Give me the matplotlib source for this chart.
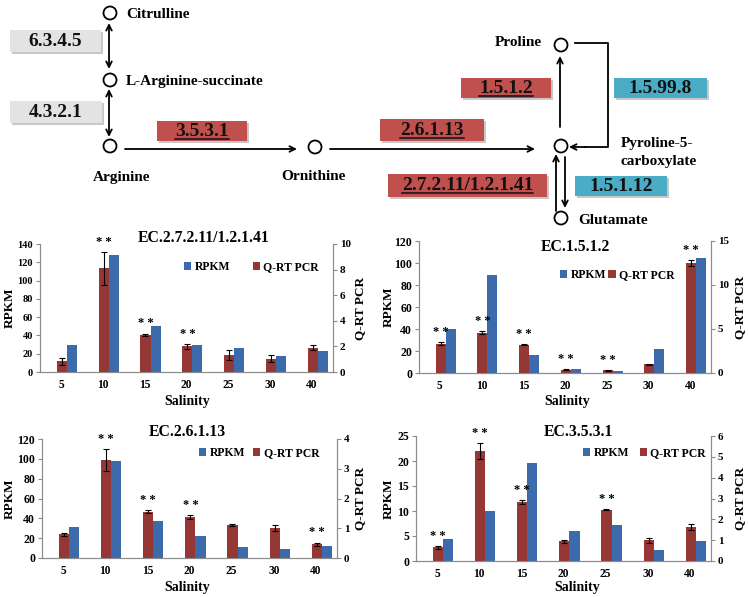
import matplotlib
matplotlib.use('Agg')
import matplotlib.pyplot as plt
from matplotlib.patches import Rectangle, Circle
from matplotlib.lines import Line2D
import numpy as np

plt.rcParams['font.family'] = ['Liberation Serif', 'DejaVu Serif']
plt.rcParams['font.weight'] = 'bold'
plt.rcParams['axes.labelweight'] = 'bold'

W, H = 748, 597

# Data
salinity = ['5', '10', '15', '20', '25', '30', '40']

# EC.2.7.2.11/1.2.1.41
rpkm_a = [30, 128, 50, 30, 26, 17, 23]
qpcr_a = [0.85, 8.1, 2.9, 2.0, 1.3, 1.05, 1.9]
err_a = [0.28, 1.3, 0.1, 0.18, 0.4, 0.28, 0.2]
sig_a = [0, 1, 1, 1, 0, 0, 0]

# EC.1.5.1.2
rpkm_b = [40, 89, 16, 4, 2, 22, 105]
qpcr_b = [3.35, 4.6, 3.2, 0.38, 0.3, 1.0, 12.5]
err_b = [0.2, 0.2, 0.06, 0.05, 0.05, 0.05, 0.3]
sig_b = [1, 1, 1, 1, 1, 0, 1]

# EC.2.6.1.13
rpkm_c = [31, 98, 37, 22, 11, 9, 12]
qpcr_c = [0.8, 3.3, 1.56, 1.37, 1.12, 1.0, 0.47]
err_c = [0.05, 0.37, 0.05, 0.07, 0.03, 0.1, 0.05]
sig_c = [0, 1, 1, 1, 0, 0, 1]

# EC.3.5.3.1
rpkm_d = [4.5, 10.1, 19.6, 6.1, 7.3, 2.2, 4.1]
qpcr_d = [0.65, 5.28, 2.83, 0.94, 2.47, 1.0, 1.63]
err_d = [0.08, 0.38, 0.1, 0.07, 0.03, 0.12, 0.15]
sig_d = [1, 1, 1, 0, 1, 0, 0]

RED = '#953735'
BLUE = '#3c6aab'
SPINE = '#8c8c8c'

fig = plt.figure(figsize=(W / 100, H / 100), dpi=100)

def px_axes(left, right, bottom, top):
    return fig.add_axes([left / W, 1 - bottom / H, (right - left) / W, (bottom - top) / H])

def panel(box, title, title_xy, leg_xy, colsp, lab_x, ysize, rpkm, qpcr, err, sig,
          ylim1, yt1, ylim2, yt2):
    left, right, bottom, top = box
    ax = px_axes(*box)
    ax2 = ax.twinx()
    x = np.arange(len(salinity))
    w = 0.24
    ax.bar(x + 0.02 + w, rpkm, w, color=BLUE, label='RPKM', zorder=2)
    ax2.bar(x + 0.02, qpcr, w, color=RED, label='Q-RT PCR', yerr=err,
            error_kw=dict(ecolor='black', elinewidth=0.8, capsize=2.5, capthick=0.8), zorder=2)
    for i, s in enumerate(sig):
        if s:
            ax2.annotate('* *', (x[i] + 0.02, qpcr[i] + err[i]), xytext=(0, 3),
                         textcoords='offset points', ha='center', va='bottom', fontsize=9)
    ax.set_xlim(-0.5, len(salinity) - 0.5)
    ax.set_ylim(*ylim1)
    ax.set_yticks(yt1)
    ax2.set_ylim(*ylim2)
    ax2.set_yticks(yt2)
    ax.set_xticks(x)
    ax.set_xticklabels(salinity)
    for a in (ax, ax2):
        a.spines['top'].set_visible(False)
        for s in ('left', 'right', 'bottom'):
            a.spines[s].set_color(SPINE)
            a.spines[s].set_linewidth(0.8)
        a.tick_params(labelsize=8, length=3, color=SPINE, pad=2)
    ax.tick_params(axis='y', labelsize=ysize)
    ax.tick_params(axis='x', length=0, pad=5, labelsize=8.3)
    for a in (ax, ax2):
        for lb in a.get_xticklabels() + a.get_yticklabels():
            lb.set_fontweight('bold')

    # axis labels placed at pixel positions
    wpx, hpx = right - left, bottom - top
    ax.set_xlabel('Salinity', fontsize=10, fontweight='bold')
    ax.xaxis.label.set_va('center')
    ax.xaxis.set_label_coords((lab_x[0] - left) / wpx, -(lab_x[1] - bottom) / hpx)
    ax.set_ylabel('RPKM', fontsize=9.5, fontweight='bold')
    ax.yaxis.label.set_va('center')
    ax.yaxis.set_label_coords((lab_x[2] - left) / wpx, 0.5)
    ax2.set_ylabel('Q-RT PCR', fontsize=9.5, fontweight='bold')
    ax2.yaxis.label.set_va('center')
    ax2.yaxis.set_label_coords((lab_x[3] - left) / wpx, 0.5)

    fig.text(title_xy[0] / W, 1 - title_xy[1] / H, title, ha='center', va='center',
             fontsize=11.3, fontweight='bold')
    h1, l1 = ax.get_legend_handles_labels()
    h2, l2 = ax2.get_legend_handles_labels()
    fig.legend(h1 + h2, l1 + l2, loc='center left', ncol=2, frameon=False,
               bbox_to_anchor=(leg_xy[0] / W, 1 - leg_xy[1] / H),
               prop=dict(size=8.5, weight='bold'), handlelength=0.6, handleheight=0.6,
               handletextpad=0.3, columnspacing=colsp, borderaxespad=0, borderpad=0)
    return ax, ax2

panel((40, 333, 372, 244), 'EC.2.7.2.11/1.2.1.41', (204, 238), (184, 267), 1.9,
      (187, 402, 10, 360), 7.5,
      rpkm_a, qpcr_a, err_a, sig_a, (0, 140), range(0, 141, 20), (0, 10), range(0, 11, 2))
panel((419, 711, 373, 241), 'EC.1.5.1.2', (575, 247), (560, 275), 0.2,
      (567, 402, 389, 740), 8.5,
      rpkm_b, qpcr_b, err_b, sig_b, (0, 120), range(0, 121, 20), (0, 15), range(0, 16, 5))
panel((42, 337, 558, 439), 'EC.2.6.1.13', (187, 432), (199, 453), 0.7,
      (187, 587, 10, 360), 8.5,
      rpkm_c, qpcr_c, err_c, sig_c, (0, 120), range(0, 121, 20), (0, 4), range(0, 5, 1))
panel((416, 711, 561, 436), 'EC.3.5.3.1', (578, 432), (583, 453), 0.9,
      (577, 587, 389, 740), 8.5,
      rpkm_d, qpcr_d, err_d, sig_d, (0, 25), range(0, 26, 5), (0, 6), range(0, 7, 1))

# Pathway diagram in pixel coordinates
dg = fig.add_axes([0, 0, 1, 1], zorder=-1)
dg.set_xlim(0, W)
dg.set_ylim(H, 0)
dg.axis('off')

nodes = {
    'cit': (110, 13), 'las': (110, 80), 'arg': (110, 146), 'orn': (315, 147),
    'p5c': (561, 146), 'pro': (561, 45), 'glu': (561, 218),
}
for cx, cy in nodes.values():
    dg.add_patch(Circle((cx, cy), 6.5, fill=False, lw=1.3, ec='black'))

lab = dict(fontsize=11, fontweight='bold', va='center')
dg.text(126, 14, 'Citrulline', ha='left', **lab)
dg.text(126, 81, 'L-Arginine-succinate', ha='left', **lab)
dg.text(122, 178, 'Arginine', ha='center', **lab)
dg.text(313, 176, 'Ornithine', ha='center', **lab)
dg.text(542, 43, 'Proline', ha='right', **lab)
dg.text(621, 144, 'Pyroline-5-', ha='left', **lab)
dg.text(621, 162, 'carboxylate', ha='left', **lab)
dg.text(578, 221, 'Glutamate', ha='left', **lab)

arr = dict(arrowstyle='->', lw=1.3, color='black', shrinkA=0, shrinkB=0)
arr2 = dict(arrowstyle='<->', lw=1.3, color='black', shrinkA=0, shrinkB=0)
dg.annotate('', xy=(109, 23), xytext=(109, 69), arrowprops=arr2)
dg.annotate('', xy=(109, 89), xytext=(109, 137), arrowprops=arr2)
dg.annotate('', xy=(297, 149), xytext=(125, 149), arrowprops=arr)
dg.annotate('', xy=(535, 149), xytext=(330, 149), arrowprops=arr)
dg.annotate('', xy=(560, 56), xytext=(560, 127), arrowprops=arr)
dg.plot([575, 608, 608, 585], [43, 43, 147, 147], color='black', lw=1.3)
dg.annotate('', xy=(569, 147), xytext=(586, 147), arrowprops=arr)
dg.annotate('', xy=(556, 154), xytext=(556, 211), arrowprops=arr)
dg.annotate('', xy=(565, 208), xytext=(565, 157), arrowprops=arr)

boxes = [
    ('6.3.4.5', 10, 101, 30, 52, '#e3e3e3', False),
    ('4.3.2.1', 10, 102, 101, 123, '#e3e3e3', False),
    ('3.5.3.1', 157, 247, 121, 141, '#c0504d', True),
    ('2.6.1.13', 380, 484, 119, 141, '#c0504d', True),
    ('1.5.1.2', 461, 551, 78, 98, '#c0504d', True),
    ('1.5.99.8', 614, 707, 78, 98, '#4bacc6', False),
    ('2.7.2.11/1.2.1.41', 388, 547, 174, 197, '#c0504d', True),
    ('1.5.1.12', 575, 667, 176, 196, '#4bacc6', False),
]
texts = []
for t, x0, x1, y0, y1, c, ul in boxes:
    dg.add_patch(Rectangle((x0 + 2, y0 + 2), x1 - x0, y1 - y0, color='#c8c8c8', lw=0))
    dg.add_patch(Rectangle((x0, y0), x1 - x0, y1 - y0, color=c, lw=0))
    tx = dg.text((x0 + x1) / 2, (y0 + y1) / 2 + 0.5, t, ha='center', va='center',
                 fontsize=14, fontweight='bold', color='#111111')
    if ul:
        texts.append(tx)

# underline the red enzyme labels
fig.canvas.draw()
r = fig.canvas.get_renderer()
for tx in texts:
    bb = tx.get_window_extent(r)
    yb = bb.y0 + 1.5
    fig.add_artist(Line2D([bb.x0 / W, bb.x1 / W], [yb / H, yb / H], color='#111111', lw=1.1))

fig.savefig('out.png', dpi=100)
